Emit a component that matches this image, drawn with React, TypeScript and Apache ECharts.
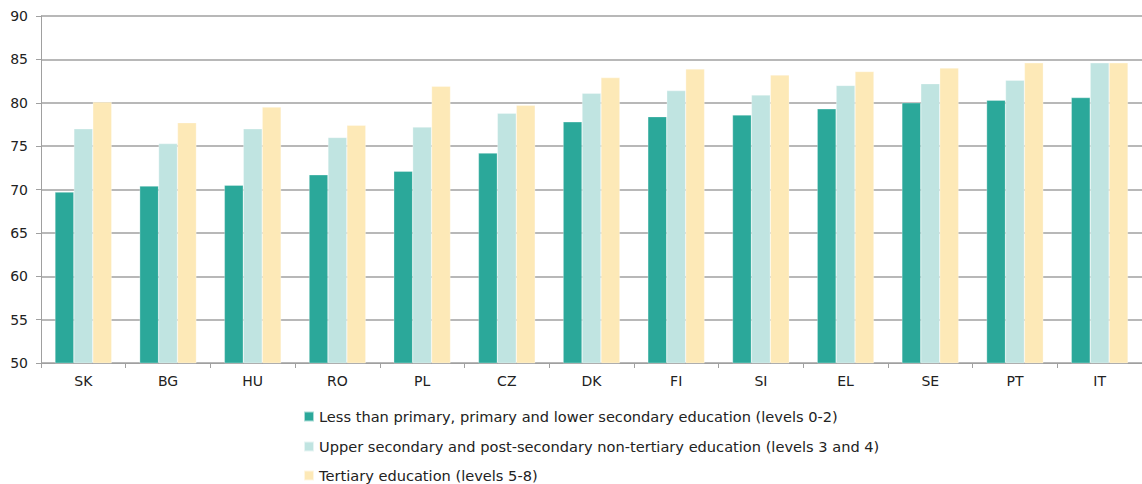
import React, { useEffect, useRef } from "react";
import * as echarts from "echarts";

const categories = ["SK", "BG", "HU", "RO", "PL", "CZ", "DK", "FI", "SI", "EL", "SE", "PT", "IT"];
const lowEdu = [69.7, 70.4, 70.5, 71.7, 72.1, 74.2, 77.8, 78.4, 78.6, 79.3, 80.0, 80.3, 80.6];
const midEdu = [77.0, 75.3, 77.0, 76.0, 77.2, 78.8, 81.1, 81.4, 80.9, 82.0, 82.2, 82.6, 84.6];
const highEdu = [80.1, 77.7, 79.5, 77.4, 81.9, 79.7, 82.9, 83.9, 83.2, 83.6, 84.0, 84.6, 84.6];
const seriesNames = [
  "Less than primary, primary and lower secondary education (levels 0-2)",
  "Upper secondary and post-secondary non-tertiary education (levels 3 and 4)",
  "Tertiary education (levels 5-8)",
];
const colors = ["#2ba89a", "#c0e4e1", "#fde9b7"];

export default function App() {
  const ref = useRef<HTMLDivElement>(null);
  useEffect(() => {
    if (!ref.current) return;
    const chart = echarts.init(ref.current, null, { renderer: "svg" });
    const font = "'DejaVu Sans', Verdana, sans-serif";
    const data = [lowEdu, midEdu, highEdu];
    const legendTops = [409, 439, 468];
    chart.setOption({
      animation: false,
      textStyle: { fontFamily: font },
      grid: { left: 41, right: -4, top: 16, bottom: 121, containLabel: false },
      legend: seriesNames.map((name, i) => ({
        orient: "horizontal",
        left: 303,
        top: legendTops[i],
        padding: 0,
        itemWidth: 10,
        itemHeight: 10,
        icon: "rect",
        textStyle: { fontFamily: font, fontSize: 14.6, color: "#222" },
        data: [name],
      })),
      xAxis: {
        type: "category",
        data: categories,
        axisLine: { lineStyle: { color: "#a0a0a0", width: 1 } },
        axisTick: { show: true, length: 5, lineStyle: { color: "#a0a0a0" } },
        axisLabel: { fontFamily: font, fontSize: 14, color: "#222", margin: 11 },
      },
      yAxis: {
        type: "value",
        min: 50,
        max: 90,
        interval: 5,
        axisLine: { show: true, lineStyle: { color: "#a0a0a0", width: 1 } },
        axisTick: { show: true, length: 5, lineStyle: { color: "#a0a0a0" } },
        axisLabel: { fontFamily: font, fontSize: 14, color: "#222", margin: 13 },
        splitLine: { lineStyle: { color: "#a0a0a0", width: 1.5 } },
      },
      series: seriesNames.map((name, i) => ({
        name,
        type: "bar",
        data: data[i],
        barGap: "0%",
        barCategoryGap: "33%",
        itemStyle: { color: colors[i], borderColor: "rgba(255,255,255,0.6)", borderWidth: 0.5 },
      })),
    });
    return () => chart.dispose();
  }, []);
  return (
    <div
      ref={ref}
      style={{ position: "absolute", left: 0, top: 0, width: 1142, height: 484, background: "#fff" }}
    />
  );
}
